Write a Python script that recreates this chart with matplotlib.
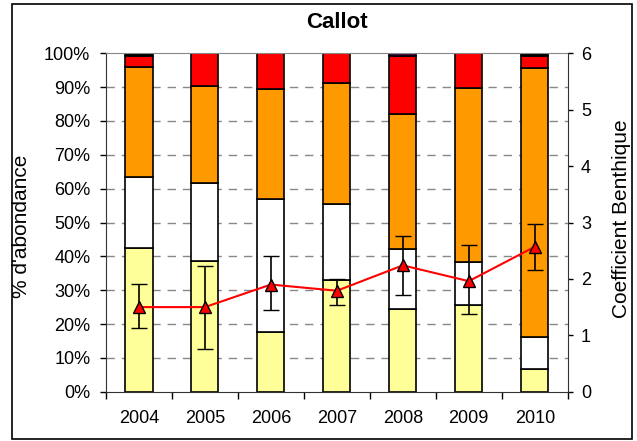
import matplotlib
matplotlib.use("Agg")
import matplotlib.pyplot as plt
import numpy as np
from matplotlib.patches import Rectangle

plt.rcParams['font.family'] = ['Liberation Sans', 'DejaVu Sans']

years = ['2004', '2005', '2006', '2007', '2008', '2009', '2010']
# layer values (%)
yellow = [42.4, 38.6, 17.7, 32.9, 24.5, 25.5, 6.7]
white = [21.0, 23.0, 39.2, 22.6, 17.8, 12.7, 9.6]
orange = [32.6, 28.8, 32.5, 35.6, 39.8, 51.6, 79.3]
red = [3.2, 9.6, 10.6, 8.9, 17.0, 10.2, 3.6]
dark = [0.8, 0.0, 0.0, 0.0, 0.9, 0.0, 0.8]
dark_colors = ['#000000', '#000000', '#000000', '#000000', '#4B0A4B', '#000000', '#000000']

coef = [1.50, 1.50, 1.90, 1.79, 2.24, 1.96, 2.57]
err_up = [0.41, 0.72, 0.51, 0.21, 0.52, 0.64, 0.41]
err_down = [0.37, 0.74, 0.46, 0.25, 0.52, 0.58, 0.41]

fig = plt.figure(figsize=(6.37, 4.41), dpi=100)
ax = fig.add_axes([0.1664, 0.1118, 0.8913 - 0.1664, 0.8791 - 0.1118])

x = np.arange(len(years))
w = 0.41
layers = [(yellow, '#FFFF99'), (white, '#FFFFFF'), (orange, '#FF9900'), (red, '#FF0000')]
bottom = np.zeros(len(years))
for vals, col in layers:
    ax.bar(x, vals, w, bottom=bottom, color=col, edgecolor='black', linewidth=1.2, zorder=2)
    bottom += np.array(vals)
ax.bar(x, dark, w, bottom=bottom, color=dark_colors, edgecolor='black', linewidth=1.2, zorder=2)

ax.set_ylim(0, 100)
ax.set_xlim(-0.5, len(years) - 0.5)
ax.set_yticks(np.arange(0, 101, 10))
ax.set_yticklabels([f'{v}%' for v in range(0, 101, 10)], fontsize=13)
ax.set_xticks(x)
ax.set_xticklabels(years, fontsize=13)
ax.set_xticks(np.arange(-0.5, len(years), 1), minor=True)
ax.tick_params(axis='x', which='major', length=0, pad=13)
ax.tick_params(axis='x', which='minor', length=5, width=1, direction='out')
ax.tick_params(axis='y', length=4.3, width=1, direction='out', pad=7)
for v in range(10, 100, 10):
    ax.axhline(v, color='#888888', linestyle=(0, (6, 5)), linewidth=1, zorder=1)
ax.spines['top'].set_color('#888888')
ax.spines['right'].set_visible(False)
ax.spines['left'].set_color('#333333')
ax.spines['bottom'].set_color('#333333')
ax.set_ylabel("% d'abondance", fontsize=15)
ax.yaxis.set_label_coords(-0.162, 0.49)
fig.text(0.5 * (0.1664 + 0.8913), 1 - 22 / 441, 'Callot', fontsize=16, fontweight='bold',
         ha='center', va='center')

ax2 = ax.twinx()
ax2.set_ylim(0, 6)
ax2.set_yticks(range(0, 7))
ax2.tick_params(axis='y', labelsize=13, length=3.6, width=1, direction='out', pad=6)
ax2.errorbar(x, coef, yerr=[err_down, err_up], color='red', linewidth=1.5,
             ecolor='black', elinewidth=1.2, capsize=6, capthick=1.2,
             marker='^', markersize=9, markerfacecolor='red', markeredgecolor='black',
             markeredgewidth=1, zorder=5)
ax2.spines['top'].set_visible(False)
ax2.spines['left'].set_visible(False)
ax2.spines['bottom'].set_visible(False)
ax2.spines['right'].set_color('#333333')
ax2.set_ylabel('Coefficient Benthique', fontsize=15)
ax2.yaxis.set_label_coords(1.096, 0.51)

fig.patches.append(Rectangle((12 / 637, 1 - 439 / 441), (632 - 12) / 637, (439 - 4) / 441,
                             transform=fig.transFigure, fill=False, edgecolor='black',
                             linewidth=1.2))

fig.savefig('out.png', dpi=100)
